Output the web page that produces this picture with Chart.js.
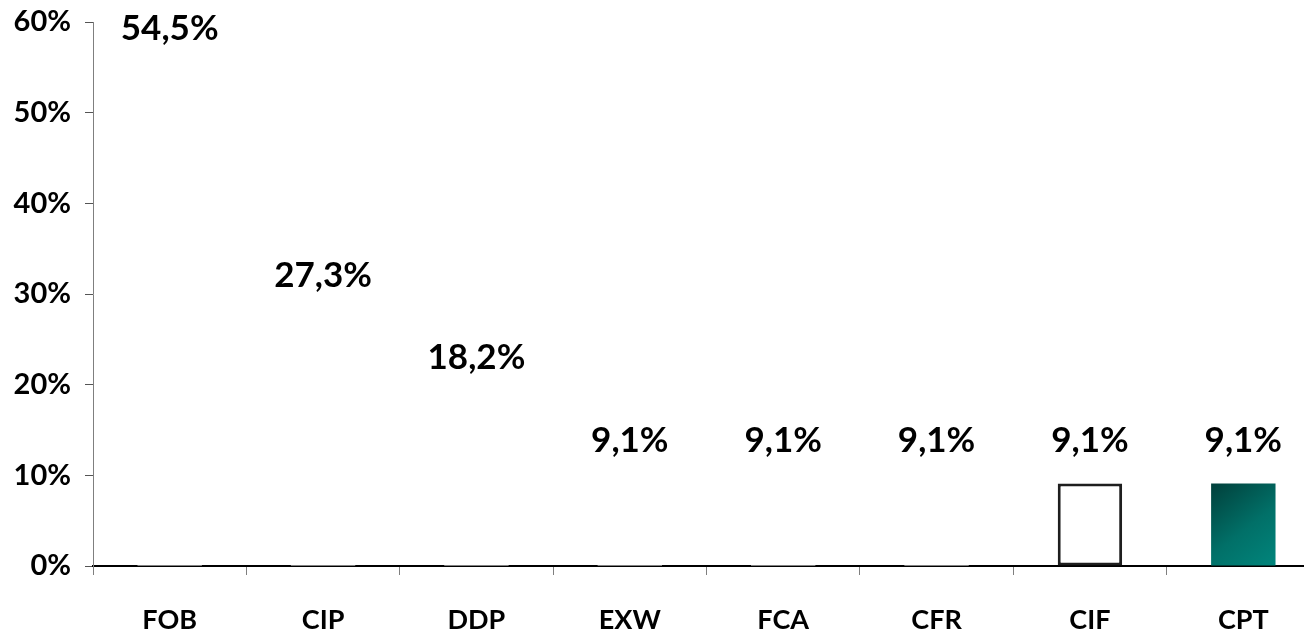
<!DOCTYPE html>
<html>
<head>
<meta charset="utf-8">
<script src="https://cdn.jsdelivr.net/npm/chart.js@4/dist/chart.umd.min.js"></script>
<style>
  html, body { margin: 0; padding: 0; background: #fff; overflow: hidden; }
  #wrap { width: 1320px; height: 633px; }
</style>
</head>
<body>
<div id="wrap"><canvas id="bar-chart"></canvas></div>
<script>
// incoterms share
var categories = ['FOB', 'CIP', 'DDP', 'EXW', 'FCA', 'CFR', 'CIF', 'CPT'];
var shares = [54.5, 27.3, 18.2, 9.1, 9.1, 9.1, 9.1, 9.1];
var yTicks = [0, 10, 20, 30, 40, 50, 60];

var fontName = 'Lato, "Open Sans", sans-serif';

function fillFor(c) {
    var i = c.dataIndex;
    if (i == categories.length - 1) {
        var ch = c.chart;
        if (!ch.chartArea || !ch.scales.x) return '#00786f';
        var x = ch.scales.x.getPixelForValue(i);
        var top = ch.scales.y.getPixelForValue(shares[i]);
        var bot = ch.scales.y.getPixelForValue(0);
        var g = ch.ctx.createLinearGradient(x - 32, top, x + 32, bot);
        g.addColorStop(0, '#01403b');
        g.addColorStop(0.55, '#017068');
        g.addColorStop(1, '#01857c');
        return g;
    }
    return '#ffffff';
}

// value labels above bars
var valueLabels = {
    id: 'valueLabels',
    afterDatasetsDraw: function(chart) {
        var ctx = chart.ctx;
        var meta = chart.getDatasetMeta(0);
        ctx.save();
        ctx.font = 'bold 35px ' + fontName;
        ctx.fillStyle = '#000';
        ctx.textAlign = 'center';
        ctx.textBaseline = 'middle';
        meta.data.forEach(function(bar, i) {
            var txt = shares[i].toFixed(1).replace('.', ',') + '%';
            ctx.fillText(txt, bar.x, bar.y - 43);
        });
        ctx.restore();
    }
};

var ctx = document.getElementById('bar-chart').getContext('2d');
var chart = new Chart(ctx, {
    type: 'bar',
    data: {
        labels: categories,
        datasets: [{
            data: shares,
            backgroundColor: fillFor,
            borderColor: function(c) { return c.dataIndex == 6 ? '#1e1e1e' : 'rgba(0,0,0,0)'; },
            borderWidth: function(c) { return c.dataIndex == 6 ? 3 : 0; },
            borderSkipped: false,
            categoryPercentage: 1,
            barPercentage: 0.42
        }]
    },
    options: {
        responsive: true,
        maintainAspectRatio: false,
        animation: false,
        layout: { padding: 0 },
        plugins: {
            legend: { display: false },
            tooltip: { enabled: false }
        },
        scales: {
            x: {
                grid: { display: true, drawOnChartArea: false, offset: true, tickLength: 9, color: '#7f7f7f' },
                border: { display: true, color: '#000', width: 2 },
                ticks: { color: '#000', padding: 29, font: { family: fontName, weight: 'bold', size: 27 } },
                afterFit: function(s) { s.height = 67; }
            },
            y: {
                min: 0,
                max: 60,
                afterBuildTicks: function(s) { s.ticks = yTicks.map(function(v) { return { value: v }; }); },
                grid: { display: true, drawOnChartArea: false, tickLength: 8, color: '#555' },
                border: { display: true, color: '#7f7f7f', width: 1 },
                ticks: {
                    color: '#000',
                    padding: 14,
                    font: { family: fontName, weight: 'bold', size: 29 },
                    callback: function(v) { return v + '%'; }
                },
                afterFit: function(s) { s.width = 93; s.paddingTop = 22; s.paddingBottom = 0; }
            }
        }
    },
    plugins: [valueLabels]
});
</script>
</body>
</html>
